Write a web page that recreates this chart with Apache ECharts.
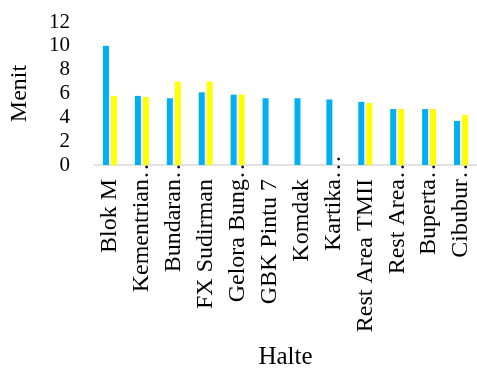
<!DOCTYPE html>
<html>
<head>
<meta charset="utf-8">
<script src="https://cdn.jsdelivr.net/npm/echarts@6/dist/echarts.min.js"></script>
<style>
  html, body { margin: 0; padding: 0; background: #fff; }
  #chart { width: 477px; height: 371px; }
</style>
</head>
<body>
<div id="chart"></div>
<script>
// data
const categories = ['Blok M', 'Kementrian', 'Bundaran', 'FX Sudirman', 'Gelora Bung', 'GBK Pintu 7',
  'Komdak', 'Kartika', 'Rest Area TMII', 'Rest Area', 'Buperta', 'Cibubur'];
// labels that are cut short get an ellipsis
const truncated = [false, true, true, false, true, false, false, true, false, true, true, true];
const blueValues = [10, 5.8, 5.6, 6.1, 5.9, 5.6, 5.6, 5.5, 5.3, 4.7, 4.7, 3.7];
const yellowValues = [5.8, 5.7, 7.0, 7.0, 5.9, null, null, null, 5.2, 4.7, 4.7, 4.2];

const chart = echarts.init(document.getElementById('chart'));
const font = '"Liberation Serif", "Times New Roman", serif';

chart.setOption({
  animation: false,
  grid: { left: 92, right: -6, top: 22, bottom: 205 },
  xAxis: {
    type: 'category',
    data: categories,
    name: 'Halte',
    nameLocation: 'middle',
    nameGap: 180,
    nameTextStyle: { fontFamily: font, fontSize: 25, color: '#000' },
    axisLine: { lineStyle: { color: '#d9d9d9', width: 1.5 } },
    axisTick: { show: false },
    axisLabel: {
      rotate: 90,
      margin: -10,
      interval: 0,
      fontFamily: font,
      fontSize: 24,
      color: '#000',
      formatter: (v, i) => truncated[i] ? '{t|' + v + '}{e|…}' : '{t|' + v + '}{s|}',
      rich: {
        t: { fontFamily: font, fontSize: 24, color: '#000' },
        e: { fontFamily: font, fontSize: 24, color: '#000', width: 24 },
        s: { width: 24 }
      }
    }
  },
  yAxis: {
    type: 'value',
    min: 0,
    max: 12,
    interval: 2,
    name: 'Menit',
    nameLocation: 'middle',
    nameGap: 62,
    nameTextStyle: { fontFamily: font, fontSize: 24, color: '#000' },
    axisLine: { show: false },
    axisTick: { show: false },
    splitLine: { show: false },
    axisLabel: { margin: 24, fontFamily: font, fontSize: 21, color: '#000' }
  },
  series: [
    {
      type: 'bar',
      data: blueValues,
      barWidth: 6,
      barGap: '33%',
      itemStyle: { color: '#00b0f0' }
    },
    {
      type: 'bar',
      data: yellowValues,
      barWidth: 6,
      itemStyle: { color: '#ffff00' }
    }
  ]
});
</script>
</body>
</html>
